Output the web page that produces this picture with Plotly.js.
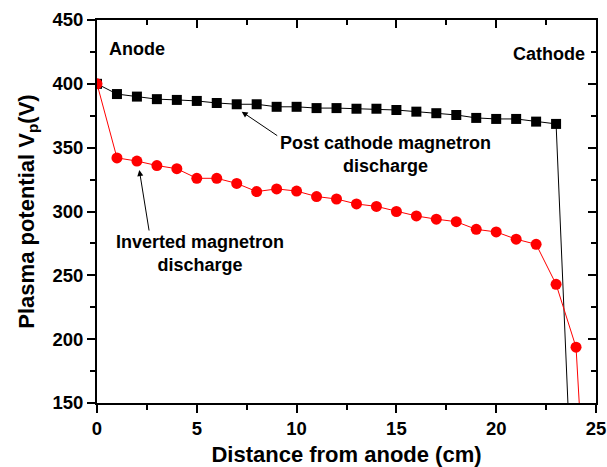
<!DOCTYPE html>
<html>
<head>
<meta charset="utf-8">
<script src="https://cdn.plot.ly/plotly-3.0.1.min.js"></script>
<style>html,body{margin:0;padding:0;background:#fff;}#chart{width:607px;height:467px;}</style>
</head>
<body>
<div id="chart"></div>
<script>
// Data
const distance = [0,1,2,3,4,5,6,7,8,9,10,11,12,13,14,15,16,17,18,19,20,21,22,23,24];
const postCathode = [400,392,390,388,387.4,386.6,385,384,384,382,382,381,381,380.5,380.5,379.5,378.2,377,375.6,373.3,372.5,372.5,370.4,368.6,0];
const distanceInv = [0,1,2,3,4,5,6,7,8,9,10,11,12,13,14,15,16,17,18,19,20,21,22,23,24,25];
const inverted = [400,342,339.5,336,333.5,326,326,322,315.6,317.7,316,311.7,309.8,305.9,304,300,296.5,294,292,286,284,278.3,274.3,243,193.7,-80];
const xTicks = [0,5,10,15,20,25];
const yTicks = [150,200,250,300,350,400,450];

const font = {family:'Liberation Sans, Arial, sans-serif', color:'#000'};
const bold = s => '<b>' + s + '</b>';

const traces = [
  {x: distance, y: postCathode, mode:'lines+markers', name:'Post cathode',
   line:{color:'#000', width:1}, marker:{symbol:'square', size:10, color:'#000'}},
  {x: distanceInv, y: inverted, mode:'lines+markers', name:'Inverted',
   line:{color:'#ff0000', width:1}, marker:{symbol:'circle', size:11, color:'#ff0000'}}
];

const axCommon = {showgrid:false, zeroline:false, showline:true, linecolor:'#000', linewidth:2,
  tickwidth:2, tickcolor:'#000'};
const annFont = {family:font.family, size:18, color:'#000'};

const layout = {
  width:607, height:467,
  margin:{l:97, r:11, t:20, b:64},
  paper_bgcolor:'#fff', plot_bgcolor:'#fff',
  showlegend:false,
  font: font,
  xaxis: Object.assign({}, axCommon, {
    range:[0,25], tickvals: xTicks, ticktext: xTicks.map(v=>bold(v)),
    ticks:'outside', ticklen:8,
    minor:{dtick:2.5, tick0:0, ticks:'outside', ticklen:5, tickwidth:2, tickcolor:'#000'},
    tickfont:{family:font.family, size:18.5, color:'#000'},
    title:{text: bold('Distance from anode (cm)'), font:{family:font.family, size:22, color:'#000'}, standoff:10}
  }),
  yaxis: Object.assign({}, axCommon, {
    range:[150,450], tickvals: yTicks, ticktext: yTicks.map(v=>bold(v)),
    ticks:'outside', ticklen:8,
    minor:{dtick:25, tick0:0, ticks:'outside', ticklen:5, tickwidth:2, tickcolor:'#000'},
    tickfont:{family:font.family, size:18.5, color:'#000'},
    title:{text: bold('Plasma potential V<sub>p</sub>(V)'), font:{family:font.family, size:22, color:'#000'}, standoff:12}
  }),
  xaxis2: Object.assign({}, axCommon, {
    overlaying:'x', side:'top', range:[0,25], tickvals: xTicks, showticklabels:false,
    ticks:'inside', ticklen:8,
    minor:{dtick:2.5, tick0:0, ticks:'inside', ticklen:5, tickwidth:2, tickcolor:'#000'}
  }),
  yaxis2: Object.assign({}, axCommon, {
    overlaying:'y', side:'right', range:[150,450], tickvals: yTicks, showticklabels:false,
    ticks:'inside', ticklen:8,
    minor:{dtick:25, tick0:0, ticks:'inside', ticklen:5, tickwidth:2, tickcolor:'#000'}
  }),
  annotations: [
    {xref:'paper', yref:'paper', x:0.02, y:0.925, xanchor:'left', yanchor:'middle',
     text: bold('Anode'), showarrow:false, font:annFont},
    {xref:'paper', yref:'paper', x:0.982, y:0.91, xanchor:'right', yanchor:'middle',
     text: bold('Cathode'), showarrow:false, font:annFont},
    {xref:'paper', yref:'paper', x:0.578, y:0.648, xanchor:'center', yanchor:'middle',
     text: bold('Post cathode magnetron<br>discharge'), showarrow:false, font:annFont},
    {xref:'paper', yref:'paper', x:0.207, y:0.39, xanchor:'center', yanchor:'middle',
     text: bold('Inverted magnetron<br>discharge'), showarrow:false, font:annFont},
    {xref:'x', yref:'y', x:7.25, y:378.2, ax:37, ay:25, text:'', showarrow:true,
     arrowhead:2, arrowsize:1.2, arrowwidth:1, arrowcolor:'#000', standoff:0},
    {xref:'x', yref:'y', x:2.12, y:332.5, ax:10, ay:62, text:'', showarrow:true,
     arrowhead:2, arrowsize:1.2, arrowwidth:1, arrowcolor:'#000', standoff:0}
  ]
};

// dummy trace to activate overlay axes
traces.push({x:[null], y:[null], xaxis:'x2', yaxis:'y2', showlegend:false, hoverinfo:'skip'});

Plotly.newPlot('chart', traces, layout, {displayModeBar:false, staticPlot:true});
</script>
</body>
</html>
